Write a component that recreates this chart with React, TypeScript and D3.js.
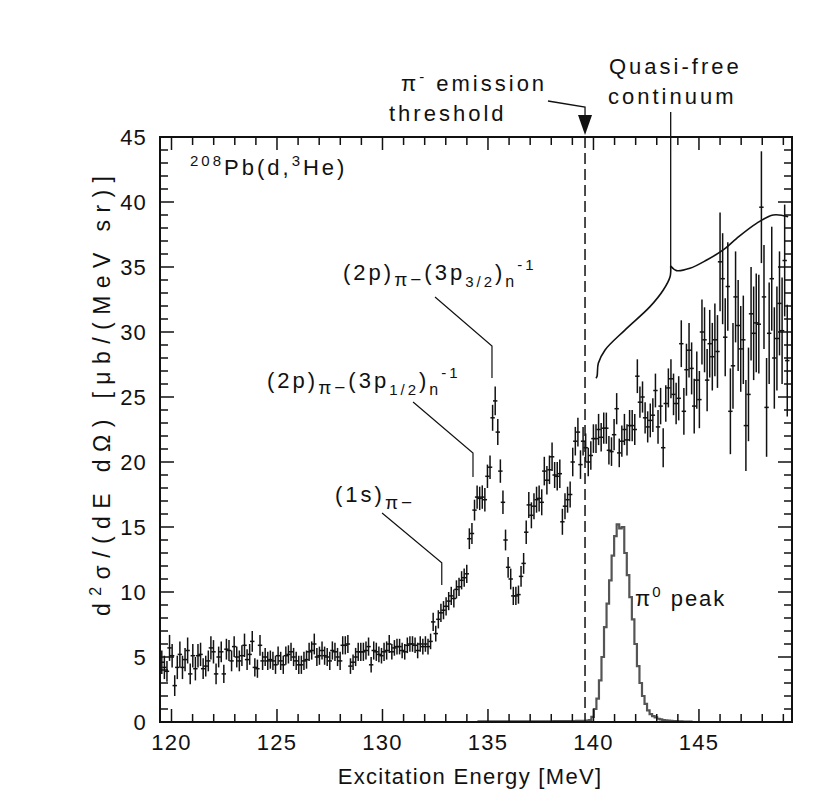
import React from "react";
import * as d3 from "d3";

// ---------- data ----------
const xTickMajor = [120, 125, 130, 135, 140, 145];
const yTickMajor = [0, 5, 10, 15, 20, 25, 30, 35, 40, 45];

// (d,3He) excitation spectrum, uniform bins
const BIN_START = 119.54;
const BIN_WIDTH = 0.1225;
const crossSection = [
  4.6, 4.2, 3.9, 5.7, 5.1, 2.8, 4.2, 5.2, 4.2, 4.8,
  5.5, 3.7, 5.1, 4.1, 5.1, 5.2, 4.1, 4.3, 4.7, 5.7,
  5.4, 3.7, 5.0, 5.4, 3.7, 5.6, 5.5, 4.7, 5.8, 5.0,
  4.7, 5.1, 5.9, 4.8, 5.2, 6.2, 4.2, 4.1, 5.9, 4.7,
  5.0, 4.7, 4.8, 4.7, 4.4, 5.1, 4.7, 4.4, 5.1, 5.2,
  5.4, 5.0, 4.7, 4.4, 4.4, 4.7, 4.8, 5.4, 5.5, 6.0,
  5.0, 5.1, 5.5, 5.1, 5.0, 4.7, 5.5, 5.4, 5.0, 4.7,
  5.9, 5.9, 6.0, 4.3, 4.6, 5.0, 5.4, 5.4, 5.4, 5.5,
  5.8, 4.4, 5.5, 5.4, 5.2, 5.1, 5.4, 5.5, 6.0, 5.4,
  5.7, 5.8, 5.8, 5.5, 5.4, 5.9, 6.0, 6.0, 5.9, 5.5,
  6.0, 5.8, 6.0, 5.8, 6.2, 7.7, 6.8, 7.9, 8.4, 8.6,
  8.9, 9.3,
  9.7, 9.5, 10.2, 10.4, 10.9, 11.1, 11.4,
  14.1, 14.5, 16.3, 17.3, 17.2, 17.3, 17.1, 18.9, 19.6,
  23.4, 24.7, 22.3, 19.3, 16.9, 14.0, 11.9, 11.0, 9.7, 9.7,
  9.8, 11.2, 12.2, 14.6, 16.7, 15.9, 16.6, 17.1, 17.2, 16.9,
  19.3, 18.6, 19.4, 20.4, 19.0, 18.9, 19.1, 15.4, 16.6, 17.1,
  17.5, 20.0, 21.6, 22.3, 19.8, 21.6, 21.1, 20.0, 20.5, 21.8,
  21.8, 22.5, 21.9, 22.6, 22.6, 20.9, 20.8, 22.1, 24.1, 20.7,
  21.6, 22.5, 21.7, 22.8, 22.8, 22.5, 26.6, 24.6, 25.0,
  23.4, 22.7, 23.2, 23.6, 25.5, 22.7, 24.3, 21.1, 24.5, 25.7,
  26.4, 25.2, 24.5, 24.9, 29.1, 23.9, 27.1, 28.6, 27.2, 24.3,
  26.3, 24.8, 30.0, 29.4, 26.3, 29.1, 28.1, 29.4, 28.5, 35.4,
  34.1, 29.6, 33.5, 23.9, 27.4, 32.7, 30.5, 28.7, 29.4, 22.8,
  25.2, 31.4, 29.9, 30.7, 30.6, 39.6, 32.7, 24.2, 29.9, 34.1,
  28.0, 29.5, 32.2, 30.1, 35.5, 27.8,
];
const crossSectionErr = [
  0.9, 0.9, 0.8, 1.0, 0.9, 0.8, 0.9, 1.0, 0.9, 0.9,
  1.0, 0.8, 0.9, 0.9, 0.9, 0.9, 0.8, 0.8, 0.8, 0.9,
  0.9, 0.8, 0.8, 0.8, 0.7, 0.8, 0.8, 0.8, 0.8, 0.8,
  0.8, 0.8, 0.9, 0.8, 0.8, 0.8, 0.7, 0.7, 0.8, 0.7,
  0.7, 0.7, 0.7, 0.7, 0.7, 0.7, 0.7, 0.7, 0.7, 0.7,
  0.7, 0.7, 0.7, 0.7, 0.7, 0.7, 0.7, 0.7, 0.7, 0.8,
  0.7, 0.7, 0.7, 0.7, 0.7, 0.7, 0.7, 0.7, 0.7, 0.7,
  0.7, 0.7, 0.7, 0.6, 0.6, 0.7, 0.7, 0.7, 0.7, 0.7,
  0.7, 0.6, 0.7, 0.7, 0.6, 0.6, 0.7, 0.7, 0.7, 0.6,
  0.6, 0.6, 0.6, 0.6, 0.6, 0.6, 0.6, 0.6, 0.6, 0.6,
  0.6, 0.6, 0.6, 0.6, 0.6, 0.7, 0.6, 0.7, 0.7, 0.7,
  0.7, 0.7,
  0.7, 0.7, 0.7, 0.7, 0.7, 0.7, 0.7,
  0.8, 0.8, 0.8, 0.9, 0.9, 0.9, 0.9, 0.9, 0.9,
  1.0, 1.1, 1.0, 0.9, 0.9, 0.8, 0.8, 0.8, 0.7, 0.7,
  0.7, 0.8, 0.8, 0.9, 1.0, 1.0, 1.0, 1.0, 1.0, 1.0,
  1.1, 1.1, 1.1, 1.1, 1.0, 1.1, 1.1, 1.0, 1.0, 1.0,
  1.0, 1.1, 1.1, 1.1, 1.1, 1.1, 1.1, 1.1, 1.1, 1.1,
  1.1, 1.2, 1.1, 1.2, 1.2, 1.1, 1.1, 1.2, 1.2, 1.1,
  1.2, 1.2, 1.2, 1.2, 1.2, 1.2, 1.3, 1.2, 1.2,
  1.2, 1.2, 1.3, 1.3, 1.3, 1.3, 1.4, 1.5, 1.4, 1.5,
  1.5, 1.6, 1.6, 1.7, 1.8, 1.8, 2.0, 2.1, 2.0, 2.1,
  2.2, 2.2, 2.5, 2.5, 2.4, 2.6, 2.6, 2.8, 2.8, 3.8,
  3.5, 3.0, 3.4, 3.3, 3.3, 3.5, 3.5, 3.3, 3.4, 3.5,
  3.6, 3.6, 3.6, 3.8, 3.8, 4.3, 4.0, 3.8, 3.9, 4.0,
  3.9, 4.0, 4.0, 4.1, 4.3, 4.3,
];

// simulated pi0 peak histogram
const PI0_START = 134.5;
const PI0_WIDTH = 0.12;
const pi0Counts = [
  0.05, 0.05, 0.05, 0.05, 0.05, 0.05, 0.05, 0.05, 0.05, 0.05,
  0.05, 0.05, 0.05, 0.05, 0.05, 0.05, 0.05, 0.05, 0.05, 0.05,
  0.05, 0.05, 0.05, 0.05, 0.05, 0.05, 0.05, 0.05, 0.05, 0.05,
  0.06, 0.06, 0.06, 0.06, 0.06, 0.06, 0.07, 0.07, 0.07, 0.08,
  0.08, 0.08, 0.09, 0.1, 0.15, 0.4, 1.0, 1.8, 3.2, 5.0,
  7.3, 9.1, 10.9, 12.8, 14.3, 15.2, 14.9, 15.0, 13.0, 11.3,
  9.6, 7.9, 6.0, 4.3, 3.0, 2.0, 1.4, 0.9, 0.6, 0.45,
  0.35, 0.25, 0.2, 0.15, 0.12, 0.1, 0.08, 0.07, 0.06, 0.05,
  0.05, 0.04, 0.04, 0.03, 0.03,
];

const THRESHOLD = 139.6;

// annotation geometry in data units [E, value]
const braceLeft: [number, number][] = [
  [140.12, 26.45], [140.17, 26.6], [140.23, 27.59], [140.55, 28.62], [141.49, 30.15],
  [142.68, 31.95], [143.31, 33.23], [143.63, 34.25], [143.66, 35.08],
];
const braceRight: [number, number][] = [
  [143.66, 35.08], [143.94, 34.72], [144.57, 34.9], [145.37, 35.54], [146.15, 36.31],
  [146.79, 37.21], [147.73, 38.36], [148.52, 39.0], [149.23, 38.87],
];
const leader32: [number, number][] = [[132.49, 32.69], [135.19, 28.92], [135.19, 26.46]];
const leader12: [number, number][] = [[131.45, 24.62], [134.29, 20.69], [134.29, 18.85]];
const leader1s: [number, number][] = [[129.98, 16.08], [132.81, 12.25], [132.81, 10.54]];

const FONT = "'Liberation Sans', Arial, Helvetica, sans-serif";

export default function App() {
  const L = 160, R = 792, T = 137, B = 722;
  const x = d3.scaleLinear().domain([119.455, 149.41]).range([L, R]);
  const y = d3.scaleLinear().domain([0, 45]).range([B, T]);

  const xMinor = d3.range(120, 150, 1);
  const yMinor = d3.range(0, 46, 1);

  const pts = crossSection.map((v, i) => ({
    e: BIN_START + i * BIN_WIDTH,
    v,
    err: crossSectionErr[i],
  }));

  const histPts: [number, number][] = pi0Counts.map((c, i) => [PI0_START + i * PI0_WIDTH, c]);
  histPts.push([PI0_START + pi0Counts.length * PI0_WIDTH, pi0Counts[pi0Counts.length - 1]]);
  const histPath = d3
    .line<[number, number]>()
    .x((d) => x(d[0]))
    .y((d) => y(d[1]))
    .curve(d3.curveStepAfter)(histPts) as string;

  const smooth = d3
    .line<[number, number]>()
    .x((d) => x(d[0]))
    .y((d) => y(d[1]))
    .curve(d3.curveCatmullRom.alpha(0.5));
  const straight = d3
    .line<[number, number]>()
    .x((d) => x(d[0]))
    .y((d) => y(d[1]));

  const thrX = x(THRESHOLD);
  const cusp = braceLeft[braceLeft.length - 1];

  const txt = { fontFamily: FONT, fill: "#111" } as const;

  return (
    <svg
      width={818}
      height={794}
      style={{ position: "absolute", left: 0, top: 0, background: "#fff" }}
    >
      <rect x={0} y={0} width={818} height={794} fill="#fff" />
      <defs>
        <clipPath id="plotClip">
          <rect x={L} y={T} width={R - L} height={B - T} />
        </clipPath>
      </defs>

      {/* pi0 histogram */}
      <path d={histPath} fill="none" stroke="#555" strokeWidth={2.2} clipPath="url(#plotClip)" />

      {/* threshold dashed line */}
      <line x1={thrX} x2={thrX} y1={T} y2={B} stroke="#111" strokeWidth={1.5} strokeDasharray="11,5" />

      {/* data points */}
      <g clipPath="url(#plotClip)" stroke="#111">
        {pts.map((p, i) => {
          const cx = x(p.e);
          const cy = y(p.v);
          return (
            <g key={i}>
              <line x1={cx} x2={cx} y1={y(p.v - p.err)} y2={y(p.v + p.err)} strokeWidth={1.5} />
              <line x1={cx - 2.2} x2={cx + 2.2} y1={cy} y2={cy} strokeWidth={1.5} />
            </g>
          );
        })}
      </g>

      {/* frame */}
      <rect x={L} y={T} width={R - L} height={B - T} fill="none" stroke="#111" strokeWidth={2} />

      {/* x ticks (bottom and top, inward) */}
      {xMinor.map((v) => {
        const major = xTickMajor.includes(v);
        const len = major ? 13 : 8;
        return (
          <g key={"xt" + v} stroke="#111" strokeWidth={1.5}>
            <line x1={x(v)} x2={x(v)} y1={B} y2={B - len} />
            <line x1={x(v)} x2={x(v)} y1={T} y2={T + len} />
          </g>
        );
      })}
      {yMinor.map((v) => {
        const major = yTickMajor.includes(v);
        const len = major ? 14 : 8;
        return (
          <g key={"yt" + v} stroke="#111" strokeWidth={1.5}>
            <line x1={L} x2={L + len} y1={y(v)} y2={y(v)} />
            <line x1={R} x2={R - len} y1={y(v)} y2={y(v)} />
          </g>
        );
      })}

      {/* tick labels */}
      {xTickMajor.map((v) => (
        <text key={"xl" + v} x={x(v)} y={750} textAnchor="middle" fontSize={22} letterSpacing={1.2} {...txt}>
          {v}
        </text>
      ))}
      {yTickMajor.map((v) => (
        <text key={"yl" + v} x={147} y={y(v) + 8} textAnchor="end" fontSize={22} letterSpacing={1.2} {...txt}>
          {v}
        </text>
      ))}

      {/* axis titles */}
      <text x={470} y={784} textAnchor="middle" fontSize={22} letterSpacing={1.3} {...txt}>
        Excitation Energy [MeV]
      </text>
      <text
        transform="translate(110,396) rotate(-90)"
        textAnchor="middle"
        fontSize={23}
        textLength={440}
        lengthAdjust="spacing"
        {...txt}
      >
        <tspan>d</tspan>
        <tspan fontSize={16} dy={-9}>2</tspan>
        <tspan dy={9}>σ/(dE dΩ) [μb/(MeV sr)]</tspan>
      </text>

      {/* reaction label */}
      <text x={190} y={175} fontSize={22} letterSpacing={3} {...txt}>
        <tspan fontSize={15} dy={-9}>208</tspan>
        <tspan dy={9}>Pb(d,</tspan>
        <tspan fontSize={15} dy={-9}>3</tspan>
        <tspan dy={9}>He)</tspan>
      </text>

      {/* threshold annotation */}
      <text x={401} y={91} fontSize={22} letterSpacing={3} {...txt}>
        <tspan>π</tspan>
        <tspan fontSize={15} dy={-9}>-</tspan>
        <tspan dy={9}> emission</tspan>
      </text>
      <text x={389} y={121} fontSize={22} letterSpacing={3} {...txt}>
        threshold
      </text>
      <polyline
        points={`548,101 ${thrX},107 ${thrX},116`}
        fill="none"
        stroke="#111"
        strokeWidth={1.3}
      />
      <path d={`M${thrX - 7},115 L${thrX + 7},115 L${thrX},135 Z`} fill="#111" />

      {/* quasi-free annotation */}
      <text x={609} y={74} fontSize={22} letterSpacing={3} {...txt}>
        Quasi-free
      </text>
      <text x={608} y={104} fontSize={22} letterSpacing={3} {...txt}>
        continuum
      </text>
      <line x1={x(cusp[0])} x2={x(cusp[0])} y1={112} y2={y(cusp[1])} stroke="#111" strokeWidth={1.3} />
      <path d={smooth(braceLeft) as string} fill="none" stroke="#111" strokeWidth={1.6} />
      <path d={smooth(braceRight) as string} fill="none" stroke="#111" strokeWidth={1.6} />

      {/* peak labels */}
      <text x={343} y={280} fontSize={22} letterSpacing={3} {...txt}>
        <tspan>(2p)</tspan>
        <tspan fontSize={19} dy={6}>π−</tspan>
        <tspan dy={-6}>(3p</tspan>
        <tspan fontSize={15} dy={7}>3/2</tspan>
        <tspan dy={-7}>)</tspan>
        <tspan fontSize={16} dy={7}>n</tspan>
        <tspan fontSize={15} dy={-17}>-1</tspan>
      </text>
      <path d={straight(leader32) as string} fill="none" stroke="#111" strokeWidth={1.2} />

      <text x={267} y={388} fontSize={22} letterSpacing={3} {...txt}>
        <tspan>(2p)</tspan>
        <tspan fontSize={19} dy={6}>π−</tspan>
        <tspan dy={-6}>(3p</tspan>
        <tspan fontSize={15} dy={7}>1/2</tspan>
        <tspan dy={-7}>)</tspan>
        <tspan fontSize={16} dy={7}>n</tspan>
        <tspan fontSize={15} dy={-17}>-1</tspan>
      </text>
      <path d={straight(leader12) as string} fill="none" stroke="#111" strokeWidth={1.2} />

      <text x={335} y={502} fontSize={22} letterSpacing={3} {...txt}>
        <tspan>(1s)</tspan>
        <tspan fontSize={19} dy={7}>π−</tspan>
      </text>
      <path d={straight(leader1s) as string} fill="none" stroke="#111" strokeWidth={1.2} />

      {/* pi0 peak label */}
      <text x={635} y={606} fontSize={22} letterSpacing={2} {...txt}>
        <tspan>π</tspan>
        <tspan fontSize={15} dy={-9}>0</tspan>
        <tspan dy={9}> peak</tspan>
      </text>
    </svg>
  );
}
